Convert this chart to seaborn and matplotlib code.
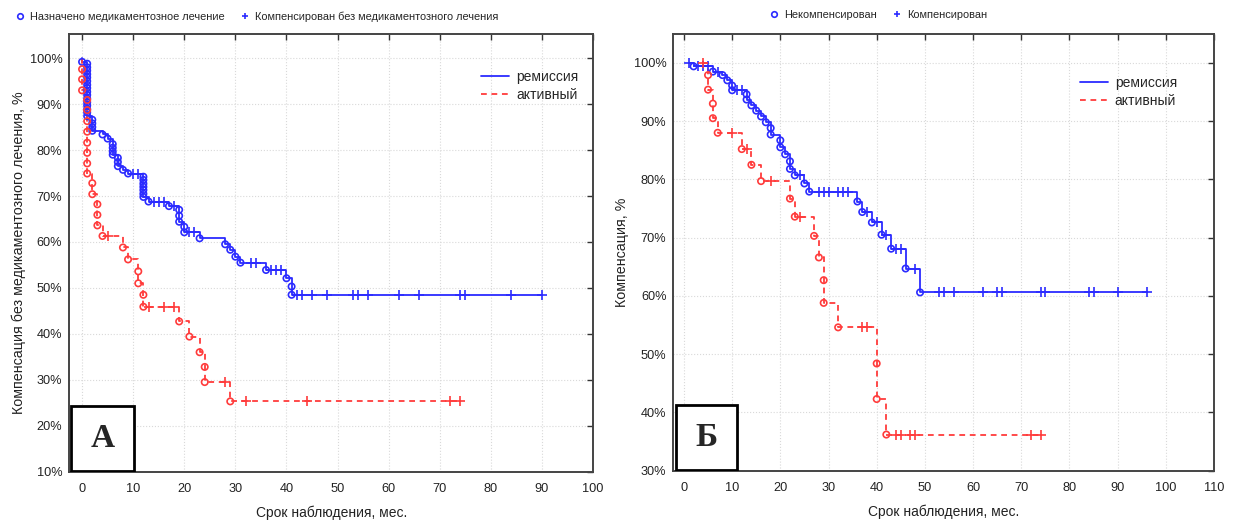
import numpy as np
import matplotlib
matplotlib.use("Agg")
import matplotlib.pyplot as plt
import seaborn as sns
from matplotlib.lines import Line2D
from matplotlib.patches import Rectangle
from matplotlib import font_manager

# ---------------- DATA ----------------
# Panel A: remission (blue) - event times / survival after each event, censored times
A_rem_start = 0
A_rem_t = [0,
           1, 1, 1, 1, 1, 1, 1, 1, 1, 1, 1, 1, 1, 1, 1, 1,
           2, 2, 2, 2,
           4, 5,
           6, 6, 6, 6,
           7, 7, 7,
           8, 9,
           12, 12, 12, 12, 12, 12, 12,
           13, 17,
           19, 19, 19,
           20, 20,
           23, 28, 29, 30, 31, 36, 40, 41, 41]
A_rem_s = [99.2,
           98.8, 98.0, 97.3, 96.5, 95.8, 95.0, 94.2, 93.5, 92.7, 92.0, 91.2, 90.4, 89.7, 88.9, 88.2, 87.4,
           86.6, 85.8, 85.0, 84.2,
           83.4, 82.5,
           81.3, 80.5, 79.7, 79.0,
           78.3, 77.4, 76.5,
           75.7, 74.9,
           74.2, 73.5, 72.7, 72.0, 71.3, 70.5, 69.8,
           68.8, 67.8,
           67.0, 65.7, 64.4,
           63.3, 62.1,
           60.8, 59.5, 58.3, 56.8, 55.5, 53.9, 52.1, 50.3, 48.5]
A_rem_c = [10, 11, 14, 15, 16, 18, 21, 22, 33, 34, 37, 38, 39, 42, 43, 45, 48,
           53, 54, 56, 62, 66, 74, 75, 84, 90]

# Panel A: active (red)
A_act_start = 0
A_act_t = [0, 0, 0,
           1, 1, 1, 1, 1, 1, 1, 1,
           2, 2,
           3, 3, 3,
           4, 8, 9,
           11, 11,
           12, 12,
           19, 21, 23,
           24, 24,
           29]
A_act_s = [97.6, 95.4, 93.0,
           90.9, 88.7, 86.3, 84.0, 81.6, 79.4, 77.1, 74.9,
           72.8, 70.4,
           68.2, 65.9, 63.6,
           61.3, 58.8, 56.2,
           53.6, 51.0,
           48.5, 45.9,
           42.7, 39.4, 36.0,
           32.8, 29.5,
           25.3]
A_act_c = [5, 13, 16, 18, 28, 32, 44, 72, 74]

# Panel Б: remission (blue)
B_rem_start = 1
B_rem_t = [2, 6, 8, 9, 10, 10, 13, 13, 14, 15, 16, 17, 18, 18, 20, 20, 21, 22, 22, 23,
           25, 26, 36, 37, 39, 41, 43, 46, 49]
B_rem_s = [99.4, 98.5, 97.9, 97.0, 96.1, 95.3, 94.6, 93.7, 92.7, 91.8, 90.8, 89.8, 88.8, 87.7,
           86.7, 85.5, 84.3, 83.1, 81.8, 80.7, 79.3, 77.9, 76.2, 74.4, 72.6, 70.5, 68.1, 64.7, 60.6]
B_rem_c = [1, 3, 4, 5, 7, 11, 12, 24, 28, 29, 30, 32, 33, 34, 38, 40, 42, 44, 45, 48,
           53, 54, 56, 62, 65, 66, 74, 75, 84, 85, 90, 96]

# Panel Б: active (red)
B_act_start = 4
B_act_t = [5, 5, 6, 6, 7, 12, 14, 16, 22, 23, 27, 28, 29, 29, 32, 40, 40, 42]
B_act_s = [97.9, 95.4, 93.0, 90.5, 88.0, 85.2, 82.5, 79.7, 76.7, 73.6, 70.3, 66.6,
           62.7, 58.8, 54.6, 48.4, 42.3, 36.2]
B_act_c = [4, 10, 13, 18, 24, 37, 38, 44, 45, 47, 48, 72, 74]

A_xticks = [0, 10, 20, 30, 40, 50, 60, 70, 80, 90, 100]
A_yticks = [10, 20, 30, 40, 50, 60, 70, 80, 90, 100]
B_xticks = [0, 10, 20, 30, 40, 50, 60, 70, 80, 90, 100, 110]
B_yticks = [30, 40, 50, 60, 70, 80, 90, 100]

series_labels = ["ремиссия", "активный"]
A_top_labels = ["Назначено медикаментозное лечение", "Компенсирован без медикаментозного лечения"]
B_top_labels = ["Некомпенсирован", "Компенсирован"]
A_ylabel = "Компенсация без медикаментозного лечения, %"
B_ylabel = "Компенсация, %"
xlabel = "Срок наблюдения, мес."
A_letter = "А"
B_letter = "Б"

# ---------------- STYLE ----------------
sns.set_style("white")
plt.rcParams["font.family"] = ["Liberation Sans", "DejaVu Sans"]

_names = {f.name for f in font_manager.fontManager.ttflist}
if "Liberation Sans Narrow" in _names:
    NARROW = ["Liberation Sans Narrow", "Liberation Sans"]
    TOP_FS, TICK_FS = 9.5, 10.5
else:
    NARROW = ["Liberation Sans", "DejaVu Sans"]
    TOP_FS, TICK_FS = 7.9, 9.2

BLUE = "#2b2bff"
RED = "#ff3b3b"
DASH = (0, (3.2, 2.6))

fig = plt.figure(figsize=(12.33, 5.22), dpi=100)
axA = fig.add_axes([0.0562, 0.0964, 0.4248, 0.8379])
axB = fig.add_axes([0.5461, 0.0983, 0.4385, 0.8360])


def km_curve(ax, start, ev_t, ev_s, cens, color, ls):
    ev_t = np.asarray(ev_t, float)
    ev_s = np.asarray(ev_s, float)
    cens = np.asarray(cens, float)
    end = max(cens.max(), ev_t.max())
    xs = np.concatenate([[start], ev_t, [end]])
    ys = np.concatenate([[100.0], ev_s, [ev_s[-1]]])
    sns.lineplot(x=xs, y=ys, sort=False, estimator=None, drawstyle="steps-post",
                 color=color, linewidth=1.3, linestyle=ls, ax=ax, zorder=3)
    idx = np.searchsorted(ev_t, cens, side="right")
    cy = np.where(idx == 0, 100.0, ev_s[np.maximum(idx - 1, 0)])
    sns.scatterplot(x=ev_t, y=ev_s, marker="o", s=21, facecolor="none",
                    edgecolor=color, linewidth=1.2, ax=ax, zorder=4)
    sns.scatterplot(x=cens, y=cy, marker="+", s=42, color=color,
                    linewidth=1.2, ax=ax, zorder=4)


def style_axes(ax, xlim, ylim, xticks, yticks, ylabel, letter, box_w, ylab_x):
    ax.set_xlim(*xlim)
    ax.set_ylim(*ylim)
    ax.set_xticks(xticks)
    ax.set_xticklabels([str(v) for v in xticks], family=NARROW)
    ax.set_yticks(yticks)
    ax.set_yticklabels([f"{v}%" for v in yticks], family=NARROW)
    ax.grid(True, color="#d9d9d9", linestyle=":", linewidth=0.8, zorder=0)
    ax.tick_params(direction="in", length=4, width=1, color="#333333",
                   top=True, right=True, labelsize=TICK_FS, labelcolor="#222222")
    ax.tick_params(axis="x", pad=8)
    ax.tick_params(axis="y", pad=5)
    for sp in ax.spines.values():
        sp.set_color("#444444")
        sp.set_linewidth(1.4)
        sp.set_visible(True)
    ax.set_xlabel(xlabel, fontsize=10, color="#222222")
    ax.set_ylabel(ylabel, fontsize=10.3, color="#222222")
    ax.xaxis.set_label_coords(0.5, -0.078)
    ax.yaxis.set_label_coords(ylab_x, 0.5)
    rect = Rectangle((0.004, 0.002), box_w, 0.148, transform=ax.transAxes,
                     facecolor="white", edgecolor="black", linewidth=2.0, zorder=6)
    ax.add_patch(rect)
    ax.text(0.004 + box_w / 2, 0.076, letter, transform=ax.transAxes,
            ha="center", va="center", fontsize=24, fontweight="bold",
            family=["Liberation Serif", "DejaVu Serif"], zorder=7)
    handles = [Line2D([], [], color=BLUE, lw=1.3),
               Line2D([], [], color=RED, lw=1.3, linestyle=DASH)]
    return handles


km_curve(axA, A_rem_start, A_rem_t, A_rem_s, A_rem_c, BLUE, "-")
km_curve(axA, A_act_start, A_act_t, A_act_s, A_act_c, RED, DASH)
km_curve(axB, B_rem_start, B_rem_t, B_rem_s, B_rem_c, BLUE, "-")
km_curve(axB, B_act_start, B_act_t, B_act_s, B_act_c, RED, DASH)

hA = style_axes(axA, (-2.5, 100), (10, 105.2), A_xticks, A_yticks, A_ylabel, A_letter, 0.12, -0.082)
hB = style_axes(axB, (-2.2, 110), (30, 104.9), B_xticks, B_yticks, B_ylabel, B_letter, 0.113, -0.082)

axA.legend(hA, series_labels, loc="upper left", bbox_to_anchor=(0.776, 0.932),
           frameon=False, fontsize=10, handlelength=2.0, handletextpad=0.5,
           labelspacing=0.3, borderaxespad=0)
axB.legend(hB, series_labels, loc="upper left", bbox_to_anchor=(0.742, 0.918),
           frameon=False, fontsize=10, handlelength=2.0, handletextpad=0.5,
           labelspacing=0.3, borderaxespad=0)

top_handles = [Line2D([], [], marker="o", ls="none", mfc="none", mec=BLUE, mew=1.2, ms=4),
               Line2D([], [], marker="+", ls="none", color=BLUE, mew=1.2, ms=5)]
fig.legend(top_handles, A_top_labels, loc="center", bbox_to_anchor=(0.208, 0.968),
           ncol=2, frameon=False, prop={"family": NARROW, "size": TOP_FS},
           handlelength=1.0, handletextpad=0.4, columnspacing=1.4)
fig.legend(top_handles, B_top_labels, loc="center", bbox_to_anchor=(0.712, 0.971),
           ncol=2, frameon=False, prop={"family": NARROW, "size": TOP_FS},
           handlelength=1.0, handletextpad=0.4, columnspacing=1.4)

fig.savefig("out.png", dpi=100)
